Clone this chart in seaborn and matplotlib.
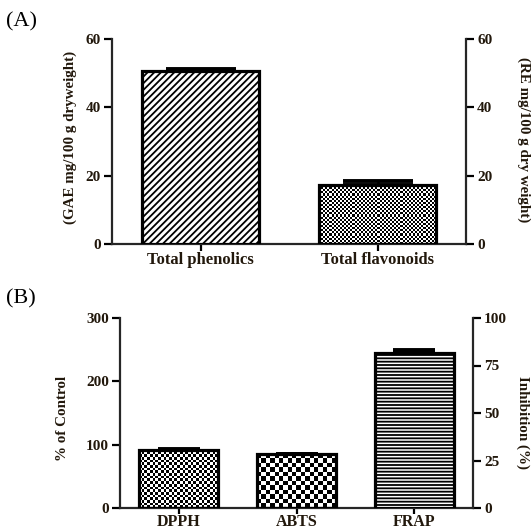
import numpy as np
import matplotlib
matplotlib.use("Agg")
import matplotlib.pyplot as plt
import seaborn as sns

# (A) contents
content_cats = ["Total phenolics", "Total flavonoids"]
content_vals = [50.6, 17.2]
content_err = [0.7, 1.3]

# (B) antioxidant assays
assay_cats = ["DPPH", "ABTS", "FRAP"]
assay_vals = [91.7, 84.5, 245.5]
assay_err = [0.8, 1.5, 3.5]

TXT = "#22180c"

sns.set_style("ticks")
plt.rcParams["font.family"] = ["Liberation Serif", "DejaVu Serif"]
plt.rcParams["font.weight"] = "bold"
plt.rcParams["axes.linewidth"] = 1.6
plt.rcParams["hatch.linewidth"] = 1.3

fig = plt.figure(figsize=(5.31, 5.31), dpi=100)
W = H = 531.0


def px_axes(l, t, r, b):
    return fig.add_axes([l / W, 1 - b / H, (r - l) / W, (b - t) / H])


def checker(ax, patch, cell):
    bb = patch.get_window_extent()
    nx = max(1, int(round(bb.width / cell)))
    ny = max(1, int(round(bb.height / cell)))
    arr = np.indices((ny, nx)).sum(axis=0) % 2
    x0, y0 = patch.get_x(), patch.get_y()
    w, h = patch.get_width(), patch.get_height()
    im = ax.imshow(arr, cmap="gray", extent=(x0, x0 + w, y0, y0 + h),
                   interpolation="nearest", aspect="auto", zorder=2.5)
    im.set_clip_path(patch)
    patch.set_facecolor("none")


def style_axes(ax, ax2, xsize, xpad, xlen):
    for a in (ax, ax2):
        a.spines["top"].set_visible(False)
        a.tick_params(direction="out", length=6, width=1.6, labelsize=11,
                      pad=2, colors="black", labelcolor=TXT)
    ax.tick_params(axis="x", labelsize=xsize, pad=xpad, length=xlen)
    ax.spines["right"].set_visible(False)
    ax2.spines["left"].set_visible(False)
    ax2.spines["bottom"].set_visible(False)
    ax.set_xlabel("")
    ax.set_ylabel("")
    for lbl in ax.get_xticklabels() + ax.get_yticklabels() + ax2.get_yticklabels():
        lbl.set_fontweight("bold")


# ---------- panel A ----------
axA = px_axes(112, 39, 466, 244)
sns.barplot(x=content_cats, y=content_vals, ax=axA, width=0.66, color="white",
            edgecolor="black", linewidth=2.3, errorbar=None, saturation=1)
axA.errorbar(range(len(content_vals)), content_vals,
             yerr=[np.zeros(len(content_err)), content_err], fmt="none",
             ecolor="black", elinewidth=1.8, capsize=25, capthick=2.8, zorder=2)
axA.set_xlim(-0.5, 1.5)
axA.set_ylim(0, 60)
axA.set_yticks([0, 20, 40, 60])
axA2 = axA.twinx()
axA2.set_ylim(0, 60)
axA2.set_yticks([0, 20, 40, 60])
style_axes(axA, axA2, 12, 1, 5)
pA = axA.patches
pA[0].set_hatch("/////")
for p in pA:
    p.set_zorder(3)
checker(axA, pA[1], 2.1)
axA.set_xlim(-0.5, 1.5)
axA.set_ylim(0, 60)

# ---------- panel B ----------
axB = px_axes(120, 318, 473, 508)
sns.barplot(x=assay_cats, y=assay_vals, ax=axB, width=0.67, color="white",
            edgecolor="black", linewidth=2.3, errorbar=None, saturation=1)
axB.errorbar(range(len(assay_vals)), assay_vals,
             yerr=[np.zeros(len(assay_err)), assay_err], fmt="none",
             ecolor="black", elinewidth=1.8, capsize=15, capthick=2.8, zorder=2)
axB.set_xlim(-0.5, 2.5)
axB.set_ylim(0, 300)
axB.set_yticks([0, 100, 200, 300])
axB2 = axB.twinx()
axB2.set_ylim(0, 100)
axB2.set_yticks([0, 25, 50, 75, 100])
style_axes(axB, axB2, 11.5, 0.5, 4)
pB = axB.patches
for p in pB:
    p.set_zorder(3)
pB[2].set_hatch("-----")
checker(axB, pB[0], 2.7)
checker(axB, pB[1], 4.4)
axB.set_xlim(-0.5, 2.5)
axB.set_ylim(0, 300)

# labels
fig.text(70 / W, 1 - 137 / H, "(GAE mg/100 g dryweight)", rotation=90,
         ha="center", va="center", fontsize=10.8, fontweight="bold", color=TXT)
fig.text(524 / W, 1 - 140 / H, "(RE mg/100 g dry weight)", rotation=270,
         ha="center", va="center", fontsize=10.8, fontweight="bold", color=TXT)
fig.text(62 / W, 1 - 418 / H, "% of Control", rotation=90,
         ha="center", va="center", fontsize=10.8, fontweight="bold", color=TXT)
fig.text(523 / W, 1 - 423 / H, "Inhibition (%)", rotation=270,
         ha="center", va="center", fontsize=10.8, fontweight="bold", color=TXT)
fig.text(6 / W, 1 - 22 / H, "(A)", ha="left", va="center", fontsize=16,
         fontweight="normal", color="black")
fig.text(6 / W, 1 - 299 / H, "(B)", ha="left", va="center", fontsize=16,
         fontweight="normal", color="black")

fig.savefig("out.png", dpi=100)
